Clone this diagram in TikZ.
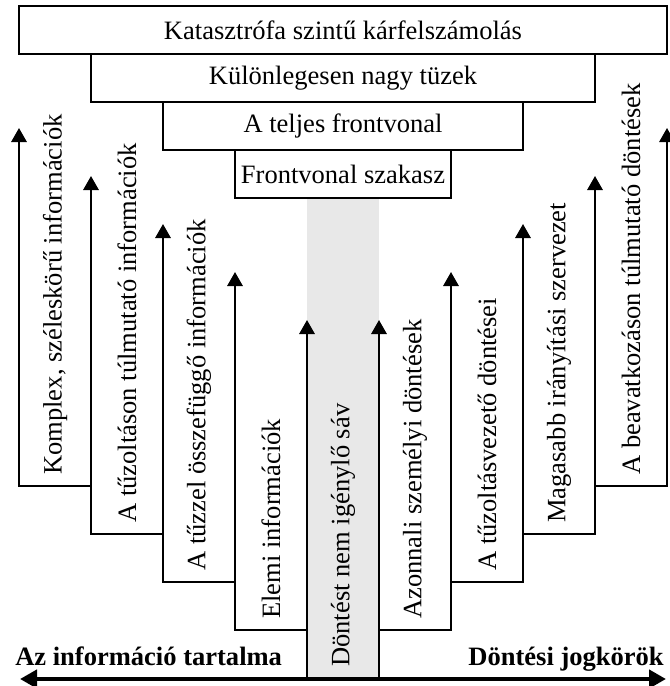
\documentclass[tikz,border=0pt]{standalone}
\usepackage{fontspec}
\setmainfont{Liberation Serif}
\usetikzlibrary{positioning,arrows.meta}
\definecolor{BandGray}{RGB}{232,232,232}
\tikzset{
	level/.style={draw=black,line width=1.5pt,fill=white,inner sep=0pt,
		minimum height=36pt,font=\fontsize{19.9}{24}\selectfont},
	flow/.style={draw=black,line width=1.5pt,-{Triangle[length=10.5pt,width=11.5pt]}},
	axis/.style={draw=black,line width=3.5pt,
		{Triangle[length=12.75pt,width=13.5pt]}-{Triangle[length=12.75pt,width=13.5pt]}},
	col/.style={rotate=90,anchor=west,inner sep=0pt,font=\fontsize{19.9}{24}\selectfont},
	axlabel/.style={inner sep=0pt,font=\fontsize{19.9}{24}\selectfont\bfseries},
}

\begin{document}
\begin{tikzpicture}[x=0.75pt,y=-0.75pt]
					\useasboundingbox (0,0) rectangle (669,686);
					% stacked levels, narrowing downwards
					\foreach \k/\txt in {0/Katasztrófa szintű kárfelszámolás,1/Különlegesen nagy tüzek,
						2/A teljes frontvonal,3/Frontvonal szakasz}
					\node[level,minimum width={(648-144*\k)*0.75pt}] (lvl\k) at (343,{30+48*\k}) {\txt};
					% column lines: tips and feet
					\foreach \i in {0,...,9}{
						\pgfmathtruncatemacro\m{min(\i,9-\i)}
						\coordinate (tip\i) at ({19+72*\i},{128+48*\m});
						\coordinate (base\i) at ({19+72*\i},{486+48*\m});
					}
					\fill[BandGray] (base4) rectangle (base5 |- lvl3.south);
					\foreach \i/\j in {0/1,1/2,2/3,3/4,6/5,7/6,8/7,9/8}
					\draw[flow] (base\i -| base\j) -- (base\i) -- (tip\i);
					\foreach \i in {4,5}
					\draw[flow] (base\i) -- (tip\i);
					\coordinate (axL) at (20,679);
					\coordinate (axR) at (666,679);
					\draw[axis] (axL) -- (axR);
					\foreach \c/\txt in {0/{Komplex, széleskörű információk},1/A tűzoltáson túlmutató információk,
						2/A tűzzel összefüggő információk,3/Elemi információk,4/Döntést nem igénylő sáv,
						5/Azonnali személyi döntések,6/A tűzoltásvezető döntései,
						7/Magasabb irányítási szervezet,8/A beavatkozáson túlmutató döntések}{
						\pgfmathtruncatemacro\m{min(\c,8-\c)}
						\node[col] (col\c) at ({55+72*\c},{475+48*\m}) {\txt};
					}
					\node[axlabel,anchor=base west] (info) at (15,665) {Az információ tartalma};
					\node[axlabel,anchor=base east] (dont) at (664,665) {Döntési jogkörök};
				\end{tikzpicture}
\end{document}
